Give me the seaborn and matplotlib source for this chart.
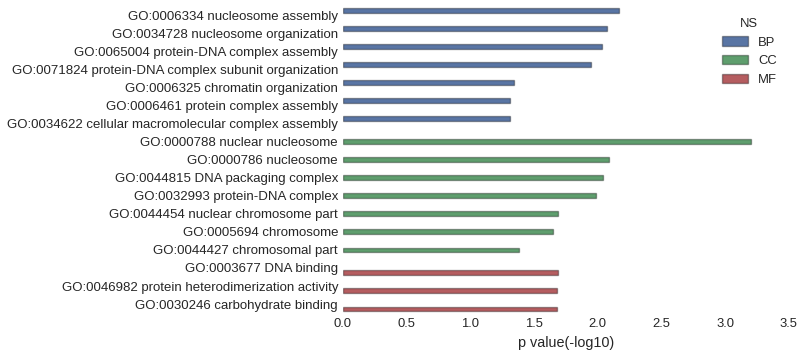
import pandas as pd
import seaborn as sns
import matplotlib.pyplot as plt

# GO enrichment terms, their namespace and -log10 p values
terms = [
    'GO:0006334 nucleosome assembly',
    'GO:0034728 nucleosome organization',
    'GO:0065004 protein-DNA complex assembly',
    'GO:0071824 protein-DNA complex subunit organization',
    'GO:0006325 chromatin organization',
    'GO:0006461 protein complex assembly',
    'GO:0034622 cellular macromolecular complex assembly',
    'GO:0000788 nuclear nucleosome',
    'GO:0000786 nucleosome',
    'GO:0044815 DNA packaging complex',
    'GO:0032993 protein-DNA complex',
    'GO:0044454 nuclear chromosome part',
    'GO:0005694 chromosome',
    'GO:0044427 chromosomal part',
    'GO:0003677 DNA binding',
    'GO:0046982 protein heterodimerization activity',
    'GO:0030246 carbohydrate binding',
]
namespaces = ['BP'] * 7 + ['CC'] * 7 + ['MF'] * 3
pvals = [2.17, 2.07, 2.03, 1.95, 1.34, 1.31, 1.31,
         3.20, 2.09, 2.04, 1.99, 1.69, 1.65, 1.38,
         1.69, 1.68, 1.68]
ns_order = ['BP', 'CC', 'MF']
colors = ['#4C72B0', '#55A868', '#C44E52']

df = pd.DataFrame({'term': terms, 'NS': namespaces, 'p': pvals})

sns.set_style('white')
plt.rcParams['font.family'] = ['Liberation Sans', 'DejaVu Sans']

fig, ax = plt.subplots(figsize=(8.05, 3.62), dpi=100)
sns.barplot(data=df, y='term', x='p', hue='NS', hue_order=ns_order,
            palette=colors, order=terms, orient='h', dodge=True, ax=ax,
            edgecolor=(0, 0, 0, 0.35), linewidth=1)

ax.set_xlim(0, 3.5)
ax.set_xticks([0, 0.5, 1.0, 1.5, 2.0, 2.5, 3.0, 3.5])
ax.set_xlabel('p value(-log10)', fontsize=10.4, color='#262626')
ax.set_ylabel('')
ax.tick_params(axis='y', labelsize=9.5, length=0, colors='#262626')
ax.tick_params(axis='x', labelsize=9.4, length=0, colors='#262626')
for s in ax.spines.values():
    s.set_visible(False)

leg = ax.legend(title='NS', loc='upper right', frameon=False,
                fontsize=9.4, title_fontsize=9.4, bbox_to_anchor=(1.0, 1.0))

plt.subplots_adjust(left=0.426, right=0.980, top=0.983, bottom=0.135)
plt.savefig('out.png', dpi=100)
